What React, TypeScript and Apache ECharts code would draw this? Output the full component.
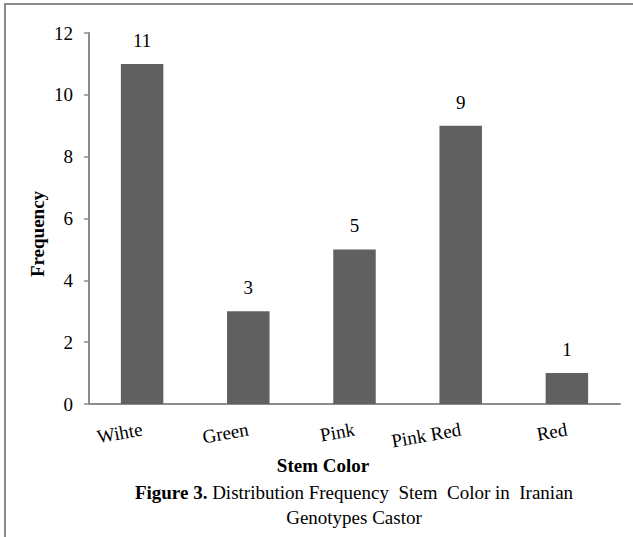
import React, { useEffect, useRef } from "react";
import * as echarts from "echarts";

const categories = ["Wihte", "Green", "Pink", "Pink Red", "Red"];
const frequencies = [11, 3, 5, 9, 1];
const yTicks = { min: 0, max: 12, interval: 2 };
const xTitle = "Stem Color";
const yTitle = "Frequency";
const captionBold = "Figure 3.";
const captionLine1 = " Distribution Frequency  Stem  Color in  Iranian";
const captionLine2 = "Genotypes Castor";

const FONT = "Liberation Serif, Times New Roman, serif";
const AXIS = "#8c8c8c";

export default function App() {
  const ref = useRef<HTMLDivElement>(null);
  useEffect(() => {
    if (!ref.current) return;
    const chart = echarts.init(ref.current, null, { renderer: "svg" });
    chart.setOption({
      animation: false,
      backgroundColor: "#ffffff",
      textStyle: { fontFamily: FONT, color: "#000" },
      grid: { left: 89, right: 13, top: 33, bottom: 133, containLabel: false },
      xAxis: {
        type: "category",
        data: categories,
        axisLine: { lineStyle: { color: AXIS, width: 2 } },
        axisTick: { show: false },
        axisLabel: {
          rotate: 10,
          margin: 25,
          fontSize: 19,
          fontFamily: FONT,
          color: "#000",
          interval: 0,
        },
      },
      yAxis: {
        type: "value",
        min: yTicks.min,
        max: yTicks.max,
        interval: yTicks.interval,
        splitLine: { show: false },
        axisLine: { show: true, lineStyle: { color: AXIS, width: 2 } },
        axisTick: { show: true, inside: false, length: 5, lineStyle: { color: AXIS, width: 1.5 } },
        axisLabel: { margin: 16, fontSize: 19, fontFamily: FONT, color: "#000" },
      },
      series: [
        {
          type: "bar",
          data: frequencies,
          barWidth: "40%",
          itemStyle: { color: "#606060" },
          label: {
            show: true,
            position: "top",
            distance: 14,
            fontSize: 19,
            fontFamily: FONT,
            color: "#000",
          },
        },
      ],
      graphic: [
        {
          type: "polyline",
          shape: { points: [[5, 537], [5, 4], [633, 4]] },
          style: { stroke: AXIS, lineWidth: 2, fill: "none" },
          silent: true,
        },
        {
          type: "text",
          x: 37,
          y: 234,
          rotation: Math.PI / 2,
          style: {
            text: yTitle,
            font: `bold 19px ${FONT}`,
            fill: "#000",
            align: "center",
            verticalAlign: "middle",
          },
        },
        {
          type: "text",
          x: 323,
          y: 465,
          style: {
            text: xTitle,
            font: `bold 19px ${FONT}`,
            fill: "#000",
            align: "center",
            verticalAlign: "middle",
          },
        },
        {
          type: "text",
          x: 354,
          y: 492,
          style: {
            text: `{b|${captionBold}}{n|${captionLine1}}`,
            align: "center",
            verticalAlign: "middle",
            rich: {
              b: { font: `bold 19px ${FONT}`, fill: "#000" },
              n: { font: `19px ${FONT}`, fill: "#000" },
            },
          },
        },
        {
          type: "text",
          x: 354,
          y: 517,
          style: {
            text: captionLine2,
            font: `19px ${FONT}`,
            fill: "#000",
            align: "center",
            verticalAlign: "middle",
          },
        },
      ],
    });
    return () => chart.dispose();
  }, []);
  return (
    <div
      ref={ref}
      style={{ position: "fixed", left: 0, top: 0, width: 633, height: 537, background: "#fff" }}
    />
  );
}
